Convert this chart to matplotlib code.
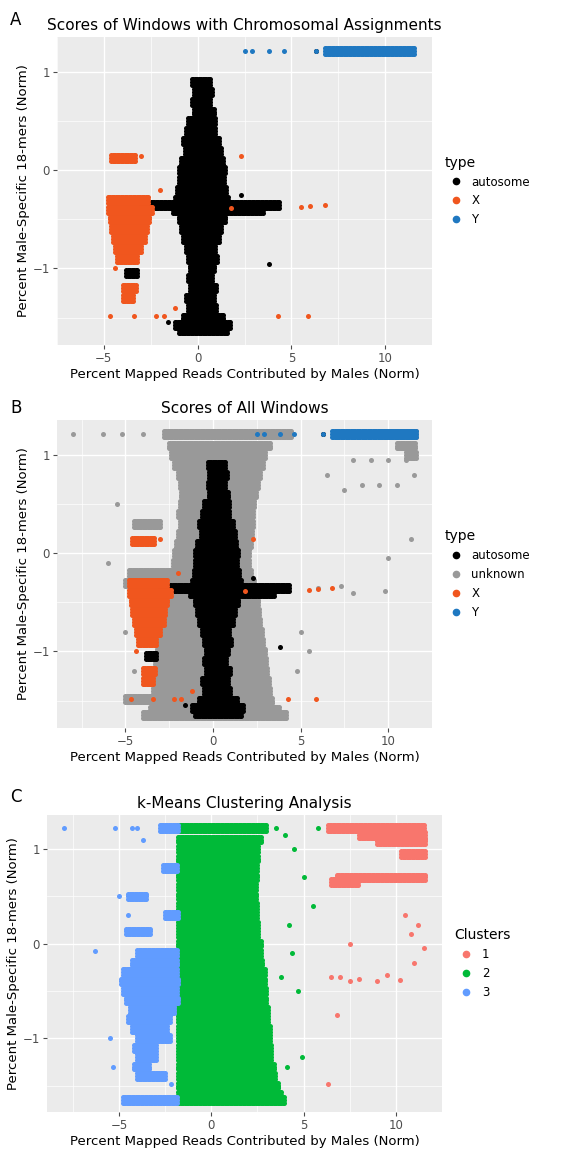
import numpy as np
import matplotlib
matplotlib.use("Agg")
import matplotlib.pyplot as plt
from matplotlib.lines import Line2D

# ---- data: horizontal runs of points (y, x_start, x_end) ----
auto_rows = [(0.9,-0.3,0.7),(0.8,-0.2,0.8),(0.7,-0.3,0.7),(0.6,-0.2,0.9),(0.5,-0.5,0.9),(0.4,-0.6,1.0),
             (0.3,-0.8,1.2),(0.2,-0.7,1.3),(0.1,-0.9,1.4),(0.0,-1.0,1.5),(-0.1,-1.0,1.4),(-0.2,-1.1,1.5),
             (-0.3,-1.2,1.6),(-0.35,-3.0,4.4),(-0.4,-1.3,3.5),(-0.5,-1.0,1.5),(-0.6,-0.9,1.3),(-0.7,-0.8,1.2),
             (-0.8,-0.6,1.0),(-0.9,-0.5,1.1),(-1.0,-0.4,0.9),(-1.1,-0.5,0.8),(-1.2,-0.4,1.0),(-1.3,-0.6,0.9),
             (-1.4,-0.5,1.0),(-1.5,-0.8,1.4),(-1.58,-1.2,1.8),(-1.63,-1.0,1.6),(-1.05,-3.8,-3.2)]
auto_pts_x = [6.3,7.0,7.5,7.8,8.3,9.0,10.2,10.6,2.3,-1.6,3.8,-2.8]
auto_pts_y = [1.22,1.22,1.22,1.22,1.22,1.22,1.22,1.22,-0.25,-1.55,-0.95,-0.6]
x_rows = [(0.13,-4.6,-3.3),(-0.3,-4.8,-2.6),(-0.4,-4.8,-2.4),(-0.5,-4.7,-2.6),(-0.6,-4.6,-2.7),
          (-0.7,-4.5,-2.8),(-0.8,-4.4,-3.0),(-0.9,-4.3,-3.2),(-1.2,-4.0,-3.3),(-1.3,-4.0,-3.4)]
x_pts_x = [-4.7,-3.4,-2.2,-1.8,-4.4,-3.0,2.3,5.5,6.0,5.9,6.8,4.3,-2.0,1.8,-1.2]
x_pts_y = [-1.48,-1.48,-1.48,-1.48,-1.0,0.15,0.15,-0.37,-0.36,-1.48,-0.35,-1.48,-0.2,-0.38,-1.4]
y_rows = [(1.22,6.8,11.6)]
y_pts_x = [2.5,2.9,3.8,4.6,6.3]
y_pts_y = [1.22,1.22,1.22,1.22,1.22]
unk_rows = [(1.22,-2.8,4.5),(1.1,-2.5,3.3),(1.0,-2.4,3.0),(0.9,-2.2,2.9),(0.8,-2.0,2.7),(0.7,-1.9,2.6),
            (0.6,-1.8,2.5),(0.5,-1.9,2.4),(0.4,-2.0,2.3),(0.3,-1.9,2.3),(0.2,-2.0,2.2),(0.1,-2.1,2.2),
            (0.0,-2.2,2.1),(-0.1,-2.3,2.1),(-0.2,-2.4,2.2),(-0.3,-2.6,2.4),(-0.4,-2.8,2.5),(-0.5,-2.9,2.6),
            (-0.6,-3.0,2.6),(-0.7,-3.0,2.7),(-0.8,-3.1,2.8),(-0.9,-3.1,2.9),(-1.0,-3.2,3.0),(-1.1,-3.3,3.0),
            (-1.2,-3.3,3.1),(-1.3,-3.4,3.2),(-1.4,-3.4,3.3),(-1.5,-3.5,3.4),(-1.6,-3.6,3.8),(-1.65,-4.0,4.2),
            (-0.3,-5.0,-2.0),(-0.2,-4.8,-2.3),(0.3,-4.5,-3.0),(-1.48,-5.0,-2.5),(1.22,9.5,11.6),
            (1.1,10.5,11.6),(1.0,11.0,11.6)]
unk_pts_x = [-8.0,-6.3,-5.2,-4.0,6.3,7.0,8.0,9.0,10.0,11.0,11.5,8.5,9.5,10.5,7.5,6.5,-5.5,11.3,9.8,7.3,
             5.0,5.5,4.8,6.0,8.0,10.0,-4.5,-5.0,-6.0,3.5]
unk_pts_y = [1.22,1.22,1.22,1.22,1.22,1.22,0.95,0.95,0.95,0.95,0.8,0.7,0.7,0.7,0.65,0.8,0.5,0.15,-0.38,-0.33,
             -0.8,-1.0,-1.2,-0.35,-0.4,-0.05,-1.2,-0.8,-0.1,-1.6]
cl1_rows = [(1.22,6.3,11.6),(1.15,8.0,11.6),(1.08,9.0,11.6),(0.95,10.3,11.6),(0.7,6.8,11.6),(0.65,6.5,8.0)]
cl1_pts_x = [6.5,7.0,7.5,8.0,9.0,10.5,11.2,11.5,10.2,9.5,7.5,6.8,6.3,10.8,11.0]
cl1_pts_y = [-0.35,-0.35,-0.4,-0.37,-0.4,0.3,0.2,-0.05,-0.38,-0.33,0.0,-0.75,-1.48,0.1,-0.2]
cl3_rows = [(1.22,-2.8,-1.8),(0.8,-2.6,-1.8),(0.3,-2.5,-1.8),(0.13,-4.6,-3.3),(-0.1,-4.0,-1.8),
            (-0.2,-4.3,-1.8),(-0.3,-4.8,-1.8),(-0.4,-4.9,-1.8),(-0.5,-4.8,-1.8),(-0.6,-4.6,-1.8),
            (-0.7,-4.4,-2.0),(-0.8,-4.5,-2.2),(-0.9,-4.3,-2.4),(-1.0,-4.0,-2.2),(-1.1,-4.2,-3.0),
            (-1.2,-4.0,-3.0),(-1.3,-4.2,-3.3),(-1.4,-4.0,-2.5),(-1.65,-4.8,-1.8),(0.5,-4.5,-3.5)]
cl3_pts_x = [-8.0,-5.2,-4.3,-4.0,-6.3,-5.0,-4.5,-3.7,-5.5,-5.3,-2.2,-2.5]
cl3_pts_y = [1.22,1.22,1.22,1.22,-0.08,0.5,0.3,1.1,-1.0,-1.3,-1.48,-0.3]
cl2_levels = [1.22,1.1,1.0,0.9,0.8,0.7,0.6,0.5,0.4,0.3,0.2,0.1,0.0,-0.1,-0.2,-0.3,-0.4,-0.5,
              -0.6,-0.7,-0.8,-0.9,-1.0,-1.1,-1.2,-1.3,-1.4,-1.5,-1.6,-1.65]
cl2_right = [3.0,2.7,2.6,2.6,2.5,2.5,2.4,2.4,2.5,2.5,2.6,2.6,2.7,2.7,2.8,2.9,2.9,3.0,
             3.0,3.1,3.1,3.2,3.2,3.3,3.3,3.4,3.5,3.6,3.8,4.0]
cl2_rows = [(y, -1.8, r) for y, r in zip(cl2_levels, cl2_right)]
cl2_pts_x = [3.5,4.0,4.5,5.0,5.5,4.2,3.8,4.7,4.9,4.1,3.6,5.8,4.4]
cl2_pts_y = [1.22,1.15,1.0,0.7,0.4,0.2,-0.35,-0.5,-1.2,-1.3,-1.5,1.22,-0.1]


def expand(rows, px, py, step=0.07, dy=0.03):
    xs, ys = [], []
    for (y, a, b) in rows:
        for off in (-dy, 0, dy):
            xx = np.arange(a, b + 1e-9, step)
            xs.extend(xx); ys.extend([y + off] * len(xx))
    xs.extend(px); ys.extend(py)
    return np.array(xs), np.array(ys)

BLACK, ORANGE, BLUE, GREY = "#000000", "#f0561e", "#1f78c1", "#999999"
C1, C2, C3 = "#f8766d", "#00ba38", "#619cff"

fig = plt.figure(figsize=(5.76, 11.49), dpi=100)
W, H = 576, 1149
def ax_at(l, t, r, b):
    return fig.add_axes([l / W, 1 - b / H, (r - l) / W, (b - t) / H])

axes = [ax_at(57, 37, 432, 345), ax_at(57, 420, 432, 728), ax_at(47, 815, 442, 1112)]
xlims = [(-6.1, 12.5), (-8.9, 12.4), (-8.9, 12.4)]
titles = ["Scores of Windows with Chromosomal Assignments", "Scores of All Windows", "k-Means Clustering Analysis"]
letters = ["A", "B", "C"]
letter_y = [20, 408, 797]
S = 13

layers = [
    [(auto_rows, auto_pts_x, auto_pts_y, BLACK), (x_rows, x_pts_x, x_pts_y, ORANGE), (y_rows, y_pts_x, y_pts_y, BLUE)],
    [(unk_rows, unk_pts_x, unk_pts_y, GREY), (auto_rows, auto_pts_x, auto_pts_y, BLACK),
     (x_rows, x_pts_x, x_pts_y, ORANGE), (y_rows, y_pts_x, y_pts_y, BLUE)],
    [(cl2_rows, cl2_pts_x, cl2_pts_y, C2), (cl3_rows, cl3_pts_x, cl3_pts_y, C3), (cl1_rows, cl1_pts_x, cl1_pts_y, C1)],
]
legends = [("type", ["autosome", "X", "Y"], [BLACK, ORANGE, BLUE]),
           ("type", ["autosome", "unknown", "X", "Y"], [BLACK, GREY, ORANGE, BLUE]),
           ("Clusters", ["1", "2", "3"], [C1, C2, C3])]

for i, ax in enumerate(axes):
    ax.set_facecolor("#ebebeb")
    for s in ax.spines.values():
        s.set_visible(False)
    ax.grid(True, color="white", lw=1.0)
    ax.set_axisbelow(True)
    for rows, px, py, col in layers[i]:
        xs, ys = expand(rows, px, py)
        ax.scatter(xs, ys, s=S, c=col, linewidths=0)
    ax.set_xlim(*xlims[i]); ax.set_ylim(-1.78, 1.36)
    ax.set_xticks([-5, 0, 5, 10]); ax.set_yticks([-1, 0, 1])
    ax.set_xticks([-7.5, -2.5, 2.5, 7.5, 12.5], minor=True)
    ax.set_yticks([-1.5, -0.5, 0.5], minor=True)
    ax.grid(True, which="minor", color="white", lw=0.5)
    ax.tick_params(which="minor", length=0)
    ax.tick_params(colors="#4d4d4d", labelsize=8.5, length=3, pad=2)
    ax.set_xlabel("Percent Mapped Reads Contributed by Males (Norm)", fontsize=9.5, labelpad=2)
    ax.set_ylabel("Percent Male-Specific 18-mers (Norm)", fontsize=9.5, labelpad=2)
    ax.set_title(titles[i], fontsize=11, pad=5)
    fig.text(10 / W, 1 - letter_y[i] / H, letters[i], fontsize=12, va="center")
    t, labs, cols = legends[i]
    handles = [Line2D([], [], marker="o", ls="", color=c, ms=4.5) for c in cols]
    leg = ax.legend(handles, labs, title=t, loc="center left", bbox_to_anchor=(1.02, 0.5),
                    frameon=False, fontsize=8.5, title_fontsize=10, handletextpad=0.3, borderaxespad=0)
    leg._legend_box.align = "left"

fig.savefig("out.png", dpi=100)
